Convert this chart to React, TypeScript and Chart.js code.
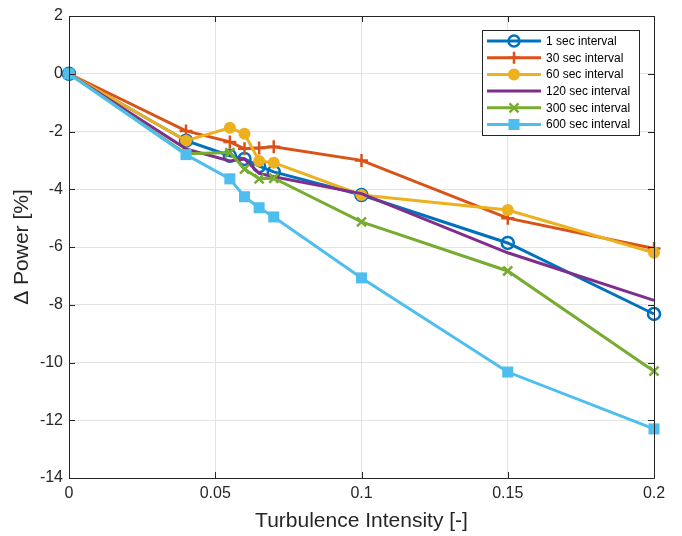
import React, { useEffect, useRef } from "react";
import { Chart, registerables } from "chart.js";

Chart.register(...registerables);

const xValues = [0, 0.04, 0.055, 0.06, 0.065, 0.07, 0.1, 0.15, 0.2];
const sec1 = [0, -2.32, -2.84, -2.95, -3.2, -3.4, -4.2, -5.86, -8.32];
const sec30 = [0, -1.98, -2.36, -2.6, -2.57, -2.53, -3.0, -5.0, -6.05];
const sec60 = [0, -2.32, -1.87, -2.08, -3.02, -3.08, -4.2, -4.72, -6.2];
const sec120 = [0, -2.6, -3.02, -2.95, -3.45, -3.57, -4.15, -6.2, -7.85];
const sec300 = [0, -2.77, -2.73, -3.3, -3.64, -3.62, -5.13, -6.83, -10.3];
const sec600 = [0, -2.8, -3.64, -4.26, -4.64, -4.96, -7.07, -10.33, -12.3];

const seriesLabels = [
  "1 sec interval",
  "30 sec interval",
  "60 sec interval",
  "120 sec interval",
  "300 sec interval",
  "600 sec interval",
];
const seriesValues = [sec1, sec30, sec60, sec120, sec300, sec600];
const seriesColors = ["#0072BD", "#D95319", "#EDB120", "#7E2F8E", "#77AC30", "#4DBEEE"];
const seriesMarkers = ["circle", "cross", "circleFilled", "none", "crossRot", "rect"];

const xTicks = [0, 0.05, 0.1, 0.15, 0.2];
const yTicks = [-14, -12, -10, -8, -6, -4, -2, 0, 2];

const FONT = "'Liberation Sans', Arial, Helvetica, sans-serif";
const AXIS = "#262626";

function drawMarker(ctx: CanvasRenderingContext2D, kind: string, x: number, y: number, color: string) {
  ctx.save();
  ctx.strokeStyle = color;
  ctx.fillStyle = color;
  ctx.lineWidth = 2.5;
  ctx.beginPath();
  if (kind === "circle") {
    ctx.arc(x, y, 5.5, 0, Math.PI * 2);
    ctx.stroke();
  } else if (kind === "circleFilled") {
    ctx.arc(x, y, 6, 0, Math.PI * 2);
    ctx.fill();
  } else if (kind === "cross") {
    ctx.moveTo(x - 6, y);
    ctx.lineTo(x + 6, y);
    ctx.moveTo(x, y - 6);
    ctx.lineTo(x, y + 6);
    ctx.stroke();
  } else if (kind === "crossRot") {
    ctx.moveTo(x - 4.5, y - 4.5);
    ctx.lineTo(x + 4.5, y + 4.5);
    ctx.moveTo(x + 4.5, y - 4.5);
    ctx.lineTo(x - 4.5, y + 4.5);
    ctx.stroke();
  } else if (kind === "rect") {
    ctx.fillRect(x - 5.5, y - 5.5, 11, 11);
  }
  ctx.restore();
}

const framePlugin = {
  id: "frame",
  afterDraw(chart: any) {
    const { ctx, chartArea } = chart;
    const { left, right, top, bottom } = chartArea;
    const xs = chart.scales.x;
    const ys = chart.scales.y;
    ctx.save();
    ctx.strokeStyle = AXIS;
    ctx.lineWidth = 1;
    ctx.beginPath();
    ctx.rect(Math.round(left) + 0.5, Math.round(top) + 0.5, Math.round(right - left), Math.round(bottom - top));
    ctx.stroke();
    ctx.beginPath();
    xTicks.forEach((v) => {
      const px = Math.round(xs.getPixelForValue(v)) + 0.5;
      ctx.moveTo(px, bottom);
      ctx.lineTo(px, bottom - 6);
      ctx.moveTo(px, top);
      ctx.lineTo(px, top + 6);
    });
    yTicks.forEach((v) => {
      const py = Math.round(ys.getPixelForValue(v)) + 0.5;
      ctx.moveTo(left, py);
      ctx.lineTo(left + 6, py);
      ctx.moveTo(right, py);
      ctx.lineTo(right - 6, py);
    });
    ctx.stroke();

    // legend
    const lx = 482.5;
    const ly = 30.5;
    const lw = 157;
    const lh = 105;
    ctx.fillStyle = "#ffffff";
    ctx.fillRect(lx, ly, lw, lh);
    ctx.strokeStyle = AXIS;
    ctx.lineWidth = 1;
    ctx.strokeRect(lx, ly, lw, lh);
    ctx.font = `12px ${FONT}`;
    ctx.textBaseline = "middle";
    ctx.textAlign = "left";
    seriesLabels.forEach((label, i) => {
      const cy = 41 + i * 16.7;
      ctx.strokeStyle = seriesColors[i];
      ctx.lineWidth = 3;
      ctx.beginPath();
      ctx.moveTo(487, cy);
      ctx.lineTo(541, cy);
      ctx.stroke();
      drawMarker(ctx, seriesMarkers[i], 514, cy, seriesColors[i]);
      ctx.fillStyle = "#000000";
      ctx.fillText(label, 546, cy + 0.5);
    });
    ctx.restore();
  },
};

function fmt(v: number) {
  const r = Math.round(v * 1000) / 1000;
  return String(r);
}

export default function App() {
  const ref = useRef<HTMLCanvasElement | null>(null);
  useEffect(() => {
    if (!ref.current) return;
    const datasets = seriesValues.map((vals, i) => {
      const m = seriesMarkers[i];
      const style =
        m === "circle" || m === "circleFilled" ? "circle" : m === "none" ? false : m;
      const radius =
        m === "none" ? 0 : m === "cross" ? 6.5 : m === "crossRot" ? 6.4 : m === "rect" ? 7.8 : 6;
      return {
        label: seriesLabels[i],
        data: vals.map((y, j) => ({ x: xValues[j], y })),
        borderColor: seriesColors[i],
        backgroundColor: m === "circle" ? "rgba(0,0,0,0)" : seriesColors[i],
        borderWidth: 3,
        pointStyle: style as any,
        pointRadius: radius,
        pointBorderWidth: m === "circleFilled" || m === "rect" ? 0 : 2.5,
        pointBorderColor: seriesColors[i],
        pointBackgroundColor: m === "circle" ? "rgba(0,0,0,0)" : seriesColors[i],
        tension: 0,
        order: 6 - i,
        clip: false as any,
      };
    });
    const chart = new Chart(ref.current, {
      type: "line",
      data: { datasets },
      options: {
        animation: false,
        responsive: false,
        devicePixelRatio: 1,
        layout: { padding: { top: 16, right: 28, left: 0, bottom: 0 } },
        plugins: { legend: { display: false }, tooltip: { enabled: false } },
        scales: {
          x: {
            type: "linear",
            min: 0,
            max: 0.2,
            afterFit: (s: any) => {
              s.height = 58;
            },
            afterBuildTicks: (s: any) => {
              s.ticks = xTicks.map((v) => ({ value: v }));
            },
            ticks: {
              callback: (v: any) => fmt(Number(v)),
              color: AXIS,
              font: { family: FONT, size: 16 },
              padding: 6,
              maxRotation: 0,
            },
            grid: { color: "#e3e3e3", drawTicks: false, lineWidth: 1 },
            border: { display: false },
            title: {
              display: true,
              text: "Turbulence Intensity [-]",
              color: AXIS,
              font: { family: FONT, size: 21 },
              padding: { top: 0, bottom: 2 },
            },
          },
          y: {
            type: "linear",
            min: -14,
            max: 2,
            afterFit: (s: any) => {
              s.width = 69;
            },
            afterBuildTicks: (s: any) => {
              s.ticks = yTicks.map((v) => ({ value: v }));
            },
            ticks: {
              callback: (v: any) => fmt(Number(v)),
              color: AXIS,
              font: { family: FONT, size: 16 },
              padding: 6,
            },
            grid: { color: "#e3e3e3", drawTicks: false, lineWidth: 1 },
            border: { display: false },
            title: {
              display: true,
              text: "\u0394 Power [%]",
              color: AXIS,
              font: { family: FONT, size: 21 },
              padding: { top: 10, bottom: 0 },
            },
          },
        },
      },
      plugins: [framePlugin],
    });
    return () => chart.destroy();
  }, []);
  return (
    <div style={{ position: "absolute", left: 0, top: 0, width: 682, height: 536, background: "#fff" }}>
      <canvas ref={ref} width={682} height={536} style={{ display: "block" }} />
    </div>
  );
}
